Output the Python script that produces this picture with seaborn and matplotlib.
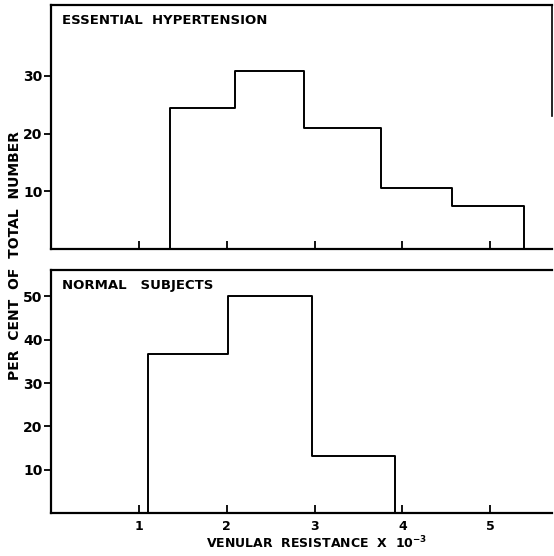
import numpy as np
import pandas as pd
import matplotlib
matplotlib.use("Agg")
import matplotlib.pyplot as plt
import seaborn as sns

sns.set_style("ticks")
plt.rcParams["font.family"] = ["DejaVu Sans"]
plt.rcParams["font.weight"] = "bold"
for k in ["text.color", "axes.labelcolor", "xtick.color", "ytick.color", "axes.edgecolor"]:
    plt.rcParams[k] = "black"

# ----------------------------------------
# dados
# ----------------------------------------
hyper_edges = [1.35, 2.09, 2.88, 3.76, 4.57, 5.38]
hyper_pct = [24.4, 30.9, 20.9, 10.6, 7.5]

normal_edges = [1.10, 2.01, 2.97, 3.91]
normal_pct = [36.7, 50.0, 13.1]

x_ticks = [1, 2, 3, 4, 5]
hyper_yticks = [10, 20, 30]
normal_yticks = [10, 20, 30, 40, 50]


def centers(edges):
    e = np.asarray(edges)
    return (e[:-1] + e[1:]) / 2


fig = plt.figure(figsize=(5.54, 5.56), dpi=100)
ax_top = fig.add_axes([0.092, 0.552, 0.904, 0.439])
ax_bot = fig.add_axes([0.092, 0.077, 0.904, 0.437])

panels = [
    (ax_top, hyper_edges, hyper_pct, hyper_yticks, (0, 42.3), "ESSENTIAL  HYPERTENSION"),
    (ax_bot, normal_edges, normal_pct, normal_yticks, (0, 56), "NORMAL   SUBJECTS"),
]

for ax, edges, pct, yt, ylim, title in panels:
    df = pd.DataFrame({"x": centers(edges), "w": pct})
    sns.histplot(data=df, x="x", weights="w", bins=edges, element="step",
                 fill=False, color="black", linewidth=1.4, ax=ax)
    # bordas externas do histograma até a base
    ax.vlines([edges[0], edges[-1]], 0, [pct[0], pct[-1]],
              color="black", linewidth=1.4)
    ax.set_xlim(0, 5.7)
    ax.set_ylim(*ylim)
    ax.set_xticks(x_ticks)
    ax.set_yticks(yt)
    ax.set_xlabel("")
    ax.set_ylabel("")
    ax.tick_params(axis="x", direction="in", length=6, width=1.3)
    ax.tick_params(axis="y", direction="out", length=5, width=1.3,
                   labelsize=10, pad=1)
    for s in ["left", "bottom", "top"]:
        ax.spines[s].set_linewidth(1.6)
        ax.spines[s].set_visible(True)
    ax.spines["right"].set_visible(False)
    ax.text(0.022, 0.965, title, transform=ax.transAxes, fontsize=9.5,
            fontweight="bold", va="top", ha="left")

# borda direita parcial no painel de cima (como no original)
ax_top.spines["right"].set_visible(True)
ax_top.spines["right"].set_linewidth(1.2)
ax_top.spines["right"].set_bounds(23, 42.3)

ax_top.set_xticklabels([])
ax_bot.tick_params(axis="x", labelsize=9, pad=5)
ax_bot.set_xlabel("VENULAR  RESISTANCE  X  10$^{-3}$", fontsize=9,
                  fontweight="bold", labelpad=4)
ax_bot.xaxis.set_label_coords(0.53, -0.09)

fig.text(0.027, 0.54, "PER  CENT  OF  TOTAL  NUMBER", rotation=90,
         fontsize=10, fontweight="bold", ha="center", va="center")

fig.savefig("out.png", dpi=100)
